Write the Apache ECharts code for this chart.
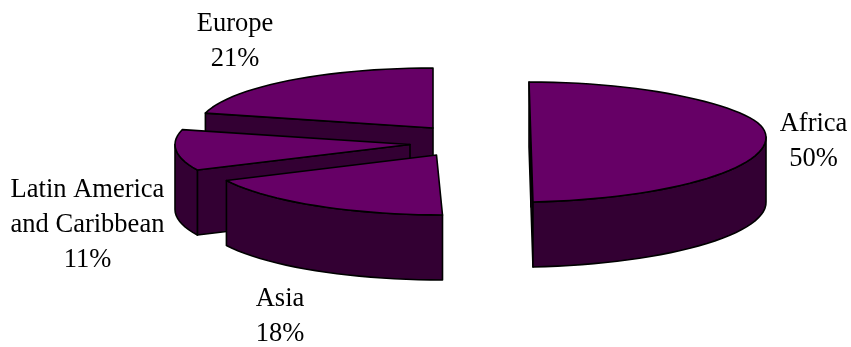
<!DOCTYPE html>
<html>
<head>
<meta charset="utf-8">
<style>html,body{margin:0;padding:0;background:#fff}#chart{width:851px;height:347px}</style>
<script src="https://cdn.jsdelivr.net/npm/echarts@6/dist/echarts.min.js"></script>
</head>
<body>
<div id="chart"></div>
<script>
// Regional shares, listed back to front so nearer slices paint over farther ones.
const regions = ['Europe', 'Latin America\nand Caribbean', 'Asia', 'Africa'];
const shares = [21, 11, 18, 50];

// Exploded apex of each slice, its lean and near-rim lift in the tilted view, and its label anchor.
const apexX = [433, 410, 436.5, 531];
const apexY = [128, 144.5, 155, 142];
const lean = [0, 0, 0.1, 0.033];
const rimLift = [0, 0, 0, 5];
const labelX = [235, 87.5, 280, 813.5];
const labelY = [41.5, 225, 316.5, 141.5];

// Projected pie shape.
const RX = 235, RY = 60, DEPTH = 65;
const TOP_COLOR = '#660066', SIDE_COLOR = '#330033', EDGE_COLOR = '#000000';

const total = shares.reduce((a, b) => a + b, 0);

function sliceRange(index) {
  // Clockwise degrees from twelve o'clock; the last listed slice starts at zero.
  let after = 0;
  for (let i = index + 1; i < shares.length; i++) after += shares[i];
  const start = after / total * 360;
  return [start, start + shares[index] / total * 360];
}

function renderSlice(params, api) {
  const i = params.dataIndex;
  const value = api.value(0);
  const [a0, a1] = sliceRange(i);
  const cx = apexX[i], cy = apexY[i], k = lean[i], lift = rimLift[i];
  const project = deg => {
    const t = deg * Math.PI / 180;
    const y = -RY * Math.cos(t);
    // The near right quadrant sits flatter than a true ellipse.
    const s = Math.max(0, Math.sin(t));
    const raise = lift * (deg > 90 ? s : Math.pow(s, 8));
    return [cx + RX * Math.sin(t) + k * y, cy + y - raise];
  };
  const arc = (from, to) => {
    const steps = Math.max(2, Math.ceil((to - from) / 3));
    const pts = [];
    for (let s = 0; s <= steps; s++) pts.push(project(from + (to - from) * s / steps));
    return pts;
  };
  const down = p => [p[0], p[1] + DEPTH];
  const apex = [cx, cy];
  const shape = (points, fill) => ({
    type: 'polygon',
    shape: { points },
    style: { fill, stroke: EDGE_COLOR, lineWidth: 1.6, lineJoin: 'round' }
  });
  const mid = project((a0 + a1) / 2);
  const children = [];

  // A cut face shows when the top of the slice lies above the cut line.
  [a0, a1].forEach(deg => {
    const rim = project(deg);
    const dx = rim[0] - apex[0];
    if (Math.abs(dx) < 1e-6) return;
    const lineY = apex[1] + (rim[1] - apex[1]) / dx * (mid[0] - apex[0]);
    if (mid[1] < lineY) {
      children.push(shape([apex, rim, down(rim), down(apex)], SIDE_COLOR));
    }
  });

  // Outer wall on the part of the rim that faces the viewer.
  const wallFrom = Math.max(a0, 90), wallTo = Math.min(a1, 270);
  if (wallTo > wallFrom) {
    const edge = arc(wallFrom, wallTo);
    children.push(shape(edge.concat(edge.map(down).reverse()), SIDE_COLOR));
  }

  // Top surface.
  children.push(shape([apex].concat(arc(a0, a1)), TOP_COLOR));

  // Region name with its share.
  children.push({
    type: 'text',
    style: {
      x: labelX[i],
      y: labelY[i],
      text: regions[i] + '\n' + value + '%',
      fill: '#000000',
      font: '26.5px "Liberation Serif"',
      lineHeight: 35,
      align: 'center',
      verticalAlign: 'middle'
    }
  });
  return { type: 'group', children };
}

const chart = echarts.init(document.getElementById('chart'), null, { renderer: 'canvas' });
chart.setOption({
  animation: false,
  backgroundColor: '#ffffff',
  series: [{
    type: 'custom',
    coordinateSystem: 'none',
    silent: true,
    renderItem: renderSlice,
    data: shares.map((v, i) => ({ name: regions[i], value: [v] }))
  }]
});
</script>
</body>
</html>
